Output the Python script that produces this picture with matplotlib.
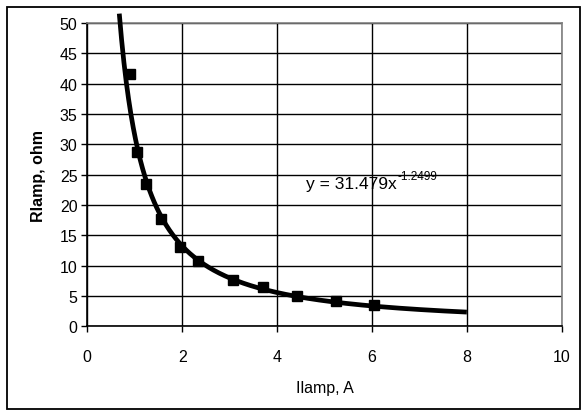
import numpy as np
import matplotlib
matplotlib.use("Agg")
import matplotlib.pyplot as plt
from matplotlib.patches import Rectangle

plt.rcParams['font.family'] = ['Liberation Sans', 'DejaVu Sans']

# Data
current = [0.90, 1.05, 1.24, 1.55, 1.95, 2.34, 3.07, 3.70, 4.41, 5.24, 6.05]
resistance = [41.6, 28.7, 23.4, 17.7, 13.0, 10.8, 7.6, 6.4, 5.0, 4.1, 3.45]
fit_coef = 31.479
fit_exp = -1.2499
fit_range = (0.674, 8.0)
x_ticks = [0, 2, 4, 6, 8, 10]
y_ticks = [0, 5, 10, 15, 20, 25, 30, 35, 40, 45, 50]

fig = plt.figure(figsize=(5.85, 4.14), dpi=100)
ax = fig.add_axes([87.3/585, 1-327.3/414, (561.7-87.3)/585, (327.3-24)/414])

# outer border
fig.patches.append(Rectangle((7/585, 1-410/414), (580-7)/585, (410-8)/414,
                             transform=fig.transFigure, fill=False,
                             edgecolor='black', linewidth=1.3))

ax.set_xlim(0, 10)
ax.set_ylim(0, 50)
ax.set_xticks(x_ticks)
ax.set_yticks(y_ticks)
ax.grid(True, color='black', linewidth=1.0)
ax.set_axisbelow(True)

for s in ['top', 'right']:
    ax.spines[s].set_color('#808080')
    ax.spines[s].set_linewidth(1.2)
for s in ['left', 'bottom']:
    ax.spines[s].set_color('black')
    ax.spines[s].set_linewidth(1.2)

ax.tick_params(direction='out', length=4, width=1, labelsize=11.5, colors='black')
ax.tick_params(axis='x', pad=12)
ax.tick_params(axis='y', pad=3)

xf = np.linspace(fit_range[0], fit_range[1], 300)
yf = fit_coef * xf ** fit_exp
ax.plot(xf, yf, color='black', linewidth=3.4, clip_on=False, solid_capstyle='butt', zorder=3)
ax.plot(current, resistance, linestyle='none', marker='s', markersize=6.5,
        color='black', zorder=4, clip_on=False)

t = ax.text(4.62, 23.5, 'y = 31.479x', fontsize=12.5, ha='left', va='center')
ax.annotate('-1.2499', xy=(1.0, 0.62), xycoords=t, xytext=(0, 0),
            textcoords='offset points', fontsize=8.5, ha='left', va='bottom')

ax.set_xlabel('Ilamp, A', fontsize=11.5, labelpad=12)
ax.set_ylabel('Rlamp, ohm', fontsize=11.5, fontweight='bold', labelpad=10)

fig.savefig('out.png', dpi=100)
